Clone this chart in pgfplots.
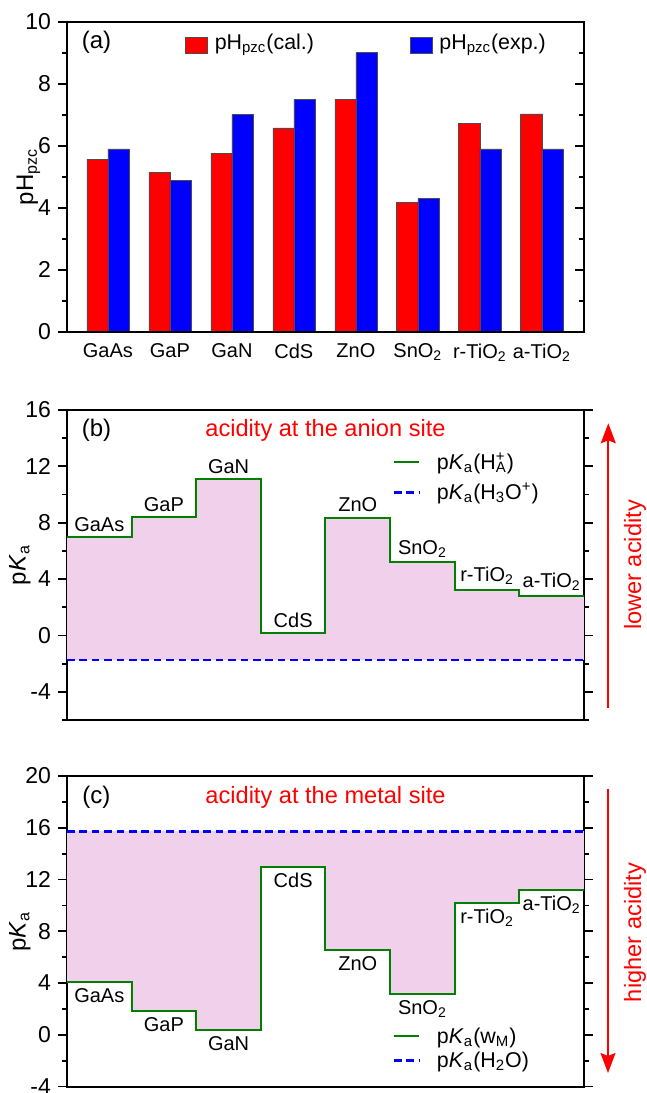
\documentclass[border=0pt]{standalone}
\usepackage{fontspec}
\setmainfont{Liberation Sans}
\usepackage{pgfplots}
\pgfplotsset{compat=1.18}
\usepgfplotslibrary{fillbetween}
\usetikzlibrary{arrows.meta}
\definecolor{stepgreen}{RGB}{0,128,0}
\definecolor{pinkfill}{RGB}{240,208,234}
\newcommand{\tickfont}{\fontsize{11.5}{13}\selectfont}
\newcommand{\catfont}{\fontsize{10}{12}\selectfont}
\newcommand{\legfont}{\fontsize{10.7}{12}\selectfont}
\newcommand{\redfont}{\fontsize{11.8}{14}\selectfont}
\newcommand{\panfont}{\fontsize{12}{14}\selectfont}
\pgfplotsset{
  common/.style={scale only axis, width=258.5pt, anchor=south west,
    axis line style={line width=1pt},
    major tick length=4.5pt, minor tick length=2.5pt,
    tick style={black, line width=0.9pt},
    tick label style={font=\tickfont},
    /pgf/number format/assume math mode=true,
    ylabel style={font=\panfont, anchor=center},
  },
  linelegend/.style={
    legend cell align=left,
    legend image code/.code={\draw[##1] (0pt,0pt) -- (12.5pt,0pt);},
    legend style={anchor=north west, draw=none, fill=none, inner sep=0pt,
      font=\legfont, nodes={inner sep=0pt, text height=9pt, text depth=2pt},
      /tikz/every odd column/.append style={column sep=8.3pt}},
  },
}
\begin{document}
\begin{tikzpicture}
% ---------------- panel (a)
\begin{axis}[common, at={(33.5pt,380.6pt)}, height=155pt,
  xmin=-0.66, xmax=7.68, ymin=0, ymax=10,
  ytick={0,2,...,10}, minor ytick={1,3,...,9},
  ytick pos=left, tick align=outside,
  xtick={0,...,7},
  xticklabels={GaAs,GaP,GaN,CdS,ZnO,SnO\textsubscript{2},r-TiO\textsubscript{2},a-TiO\textsubscript{2}},
  x tick label style={font=\catfont, yshift=2pt},
  major x tick style={draw=none},
  ylabel={pH\textsubscript{pzc}},
  ylabel style={at={(axis description cs:-0.0747,0.5)}},
  legend columns=2, legend cell align=left,
  legend style={at={(rel axis cs:0.2282,0.9706)}, anchor=north west, draw=none, fill=none,
    inner sep=0pt, font=\legfont, nodes={inner sep=0pt, text height=9pt, text depth=2pt},
    /tikz/every odd column/.append style={column sep=3.4pt},
    /tikz/every even column/.append style={column sep=48pt}},
]
\addplot[ybar, bar width=0.34, bar shift=-0.17, fill=red, draw=gray!60!black, line width=0.3pt,
  legend image code/.code={\draw[fill=red, draw=gray!60!black, line width=0.3pt] (0pt,-5.6pt) rectangle (11pt,2.4pt);}]
  coordinates {(0,5.56) (1,5.14) (2,5.75) (3,6.58) (4,7.50) (5,4.18) (6,6.73) (7,7.03)};
\addlegendentry{pH\textsubscript{pzc}(cal.)}
\addplot[ybar, bar width=0.34, bar shift=0.17, fill=blue, draw=gray!60!black, line width=0.3pt,
  legend image code/.code={\draw[fill=blue, draw=gray!60!black, line width=0.3pt] (0pt,-5.6pt) rectangle (11pt,2.4pt);}]
  coordinates {(0,5.90) (1,4.89) (2,7.00) (3,7.50) (4,9.00) (5,4.30) (6,5.90) (7,5.90)};
\addlegendentry{pH\textsubscript{pzc}(exp.)}
\node[font=\panfont, anchor=base] at (rel axis cs:0.057,0.915) {(a)};
\end{axis}
\begin{axis}[common, at={(33.5pt,380.6pt)}, height=155pt,
  xmin=-0.66, xmax=7.68, ymin=0, ymax=10,
  ytick={0,2,...,10}, minor ytick={1,3,...,9},
  ytick pos=right, tick align=inside, yticklabels={}, xtick=\empty]
\end{axis}
% ---------------- panel (b)
\begin{axis}[common, linelegend, at={(33.5pt,186.5pt)}, height=155pt,
  xmin=0, xmax=8, ymin=-6, ymax=16,
  ytick={-4,0,...,16}, minor ytick={-6,-2,...,14},
  tick align=outside, xtick=\empty,
  ylabel={p\textit{K}\textsubscript{a}},
  ylabel style={at={(axis description cs:-0.091,0.5)}},
  legend style={at={(rel axis cs:0.629,0.868)}, row sep=4pt},
]
\addplot[draw=none, const plot, name path=S, forget plot]
  coordinates {(0,7.00) (1,8.41) (2,11.13) (3,0.14) (4,8.37) (5,5.18) (6,3.21) (7,2.81) (8,2.81)};
\addplot[draw=none, name path=D, forget plot] coordinates {(0,-1.74) (8,-1.74)};
\addplot[fill=pinkfill, draw=none, forget plot] fill between[of=S and D];
\addplot[stepgreen, line width=1pt, const plot]
  coordinates {(0,7.00) (1,8.41) (2,11.13) (3,0.14) (4,8.37) (5,5.18) (6,3.21) (7,2.81) (8,2.81)};
\addlegendentry{p\textit{K}\textsubscript{a}(H\rlap{\textsuperscript{+}}\textsubscript{A})}
\addplot[blue, line width=1.4pt, dash pattern=on 3.8pt off 2.4pt] coordinates {(0,-1.74) (8,-1.74)};
\addlegendentry{p\textit{K}\textsubscript{a}(H\textsubscript{3}O\textsuperscript{+})}
\begin{scope}[every node/.style={font=\catfont, anchor=south, inner sep=0pt, yshift=2.5pt}]
\node at (axis cs:0.5,7.00) {GaAs};
\node at (axis cs:1.5,8.41) {GaP};
\node at (axis cs:2.5,11.13) {GaN};
\node at (axis cs:3.5,0.14) {CdS};
\node at (axis cs:4.5,8.37) {ZnO};
\node at (axis cs:5.5,5.18) {SnO\textsubscript{2}};
\node at (axis cs:6.5,3.21) {r-TiO\textsubscript{2}};
\node at (axis cs:7.5,2.81) {a-TiO\textsubscript{2}};
\end{scope}
\node[font=\panfont, anchor=base] at (rel axis cs:0.057,0.913) {(b)};
\node[font=\redfont, text=red, anchor=base] at (rel axis cs:0.5,0.913) {acidity at the anion site};
\end{axis}
% ---------------- panel (c)
\begin{axis}[common, linelegend, at={(33.5pt,3.2pt)}, height=155.3pt,
  xmin=0, xmax=8, ymin=-4, ymax=20,
  ytick={-4,0,...,20}, minor ytick={-2,2,...,18},
  tick align=outside, xtick=\empty,
  ylabel={p\textit{K}\textsubscript{a}},
  ylabel style={at={(axis description cs:-0.091,0.5)}},
  legend style={at={(rel axis cs:0.629,0.1986)}, row sep=1pt},
]
\addplot[draw=none, const plot, name path=S, forget plot]
  coordinates {(0,4.08) (1,1.81) (2,0.36) (3,12.97) (4,6.53) (5,3.18) (6,10.21) (7,11.19) (8,11.19)};
\addplot[draw=none, name path=D, forget plot] coordinates {(0,15.74) (8,15.74)};
\addplot[fill=pinkfill, draw=none, forget plot] fill between[of=S and D];
\addplot[stepgreen, line width=1pt, const plot]
  coordinates {(0,4.08) (1,1.81) (2,0.36) (3,12.97) (4,6.53) (5,3.18) (6,10.21) (7,11.19) (8,11.19)};
\addlegendentry{p\textit{K}\textsubscript{a}(w\textsubscript{M})}
\addplot[blue, line width=1.4pt, dash pattern=on 3.8pt off 2.4pt] coordinates {(0,15.74) (8,15.74)};
\addlegendentry{p\textit{K}\textsubscript{a}(H\textsubscript{2}O)}
\begin{scope}[every node/.style={font=\catfont, anchor=north, inner sep=0pt, yshift=-3pt}]
\node at (axis cs:0.5,4.08) {GaAs};
\node at (axis cs:1.5,1.81) {GaP};
\node at (axis cs:2.5,0.36) {GaN};
\node at (axis cs:3.5,12.97) {CdS};
\node at (axis cs:4.5,6.53) {ZnO};
\node at (axis cs:5.5,3.18) {SnO\textsubscript{2}};
\node at (axis cs:6.5,10.21) {r-TiO\textsubscript{2}};
\node at (axis cs:7.5,11.19) {a-TiO\textsubscript{2}};
\end{scope}
\node[font=\panfont, anchor=base] at (rel axis cs:0.057,0.91) {(c)};
\node[font=\redfont, text=red, anchor=base] at (rel axis cs:0.5,0.91) {acidity at the metal site};
\end{axis}
% ---------------- arrows
\draw[red, line width=0.85pt, -{Stealth[length=10pt, width=7.5pt, inset=1.5pt]}] (304.15pt,192.5pt) -- (304.15pt,334.85pt);
\node[red, rotate=90, font=\redfont] at (317.5pt,264pt) {lower acidity};
\draw[red, line width=0.85pt, -{Stealth[length=10pt, width=7.5pt, inset=1.5pt]}] (304pt,152pt) -- (304pt,10pt);
\node[red, rotate=90, font=\redfont] at (317.5pt,80.25pt) {higher acidity};
\pgfresetboundingbox
\useasboundingbox (0pt,0pt) rectangle (323.5pt,546.5pt);
\end{tikzpicture}
\end{document}
